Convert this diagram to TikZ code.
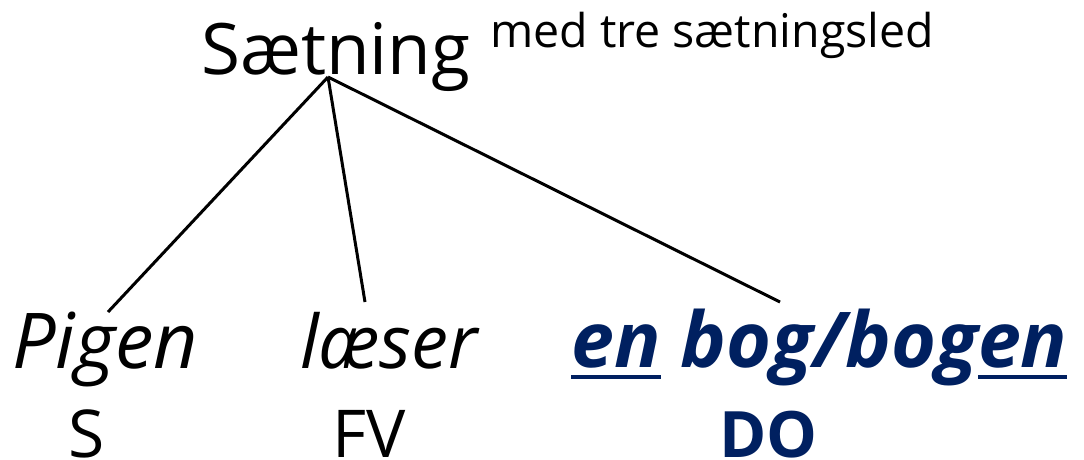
\documentclass[tikz,border=0pt]{standalone}
\usepackage{fontspec}
\setmainfont{Open Sans}
\definecolor{navy}{HTML}{002060}
\newcommand\thickul[1]{\setbox0\hbox{#1}\rlap{\rule[-12pt]{\wd0}{4pt}}\box0\relax}
\begin{document}
\begin{tikzpicture}[x=1pt,y=-1pt,
  txt/.style={inner sep=0pt,anchor=base west},
  big/.style={txt,font=\fontsize{71}{80}\selectfont},
  sub/.style={txt,font=\fontsize{46.5}{50}\selectfont},
  word/.style={txt,font=\fontsize{77}{86}\selectfont\itshape},
  tag/.style={txt,font=\fontsize{66}{72}\selectfont},
  branch/.style={line width=3pt,black}]
\useasboundingbox (0,0) rectangle (1084,459);
\node[big] (s) at (201,74) {Sætning};
\node[sub] (m) at (490,47) {med tre sætningsled};
\coordinate (apex) at (328,77);
\node[word] (p) at (12,368) {Pigen};
\node[word,font=\fontsize{74}{84}\selectfont\itshape] (l) at (300,368) {læser};
\node[word,font=\fontsize{77}{86}\selectfont\bfseries\itshape,text=navy] (b) at (571,367) {\thickul{en} bog/bog\thickul{en}};
\coordinate (pt) at (108,312);
\coordinate (lt) at (365,302);
\coordinate (bt) at (780,302);
\draw[branch] (apex) -- (pt);
\draw[branch] (apex) -- (lt);
\draw[branch] (apex) -- (bt);
\node[tag] (S) at (68,457) {S};
\node[tag] (FV) at (332,457) {FV};
\node[tag,font=\fontsize{64}{72}\selectfont\bfseries,text=navy] (DO) at (719,457) {DO};
\end{tikzpicture}
\end{document}
